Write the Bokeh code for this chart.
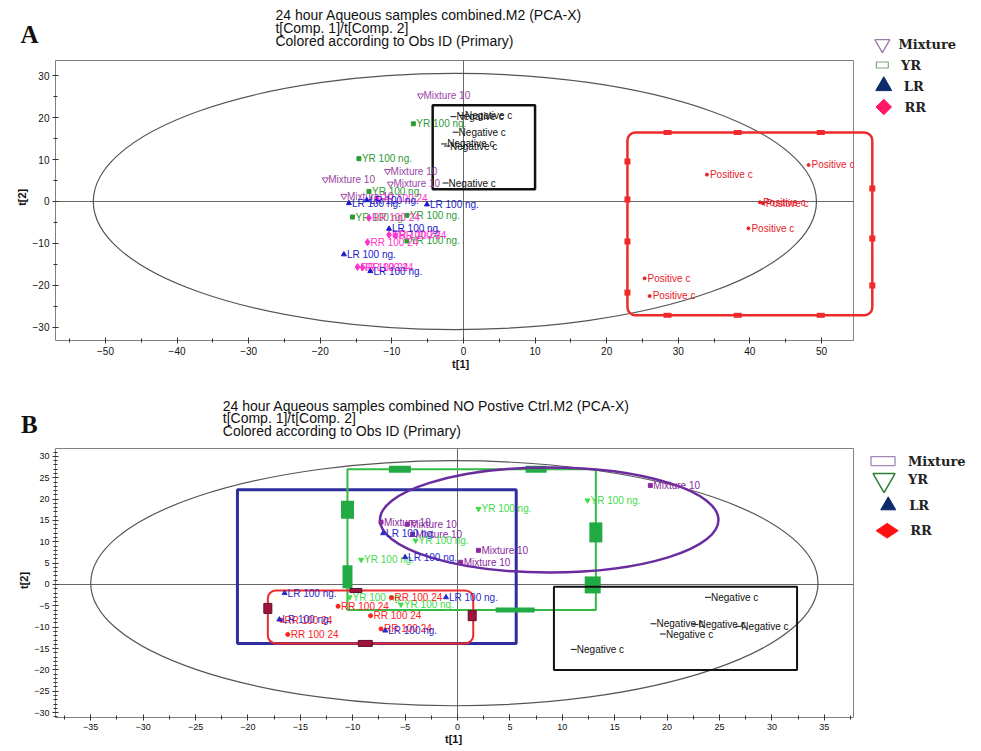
import math
from bokeh.plotting import figure
from bokeh.models import Range1d, SingleIntervalTicker, ColumnDataSource
from bokeh.layouts import column
from bokeh.embed import file_html
from bokeh.resources import INLINE
from bokeh.core.properties import value

# ---------------- Panel A data ----------------
A_TITLE = ["24 hour Aqueous samples combined.M2 (PCA-X)",
           "t[Comp. 1]/t[Comp. 2]",
           "Colored according to Obs ID (Primary)"]
A_MIX_X = [-6.0, -10.6, -19.3, -10.2, -16.7]
A_MIX_Y = [25.2, 7.2, 5.2, 4.2, 1.3]
A_YR_X = [-7.0, -14.6, -13.2, -15.5, -7.9, -7.9]
A_YR_Y = [18.5, 10.2, 2.4, -3.7, -3.3, -9.4]
A_LR_X = [-16.0, -13.5, -5.1, -10.4, -16.7, -13.0]
A_LR_Y = [-0.4, 0.3, -0.7, -6.5, -12.6, -16.6]
A_RR_X = [-12.1, -13.2, -10.4, -9.5, -13.4, -14.8, -14.1]
A_RR_Y = [0.6, -3.9, -7.9, -8.1, -9.7, -15.6, -15.7]
A_NEG_X = [-1.4, -0.2, -1.1, -2.7, -2.3, -2.5]
A_NEG_Y = [20.2, 20.5, 16.5, 13.7, 13.2, 4.4]
A_POS_X = [48.2, 34.0, 41.4, 41.8, 39.8, 25.3, 26.0]
A_POS_Y = [8.7, 6.4, -0.2, -0.4, -6.4, -18.3, -22.5]
A_ELLIPSE = (-1.2, 0.0, 101.0, 61.0)          # centre x, centre y, width, height
A_NEG_BOX = (-4.3, 10.0, 2.9, 22.9)            # left, right, bottom, top
A_POS_BOX = (22.9, 57.1, -27.1, 16.4)
A_POS_HANDLES_TB_X = [28.5, 38.3, 49.9]
A_POS_HANDLES_LEFT_Y = [9.5, 0.5, -9.5, -21.7]
A_POS_HANDLES_RIGHT_Y = [3.1, -8.8, -20.0]

# ---------------- Panel B data ----------------
B_TITLE = ["24 hour Aqueous samples combined NO Postive Ctrl.M2 (PCA-X)",
           "t[Comp. 1]/t[Comp. 2]",
           "Colored according to Obs ID (Primary)"]
B_MIX_X = [-7.3, -4.8, -4.3, 2.0, 0.3, 18.4]
B_MIX_Y = [14.6, 14.1, 11.7, 8.0, 5.2, 23.2]
B_YR_X = [2.0, 12.4, -4.0, -9.2, -10.3, -5.4]
B_YR_Y = [17.7, 19.7, 10.3, 5.8, -3.0, -4.7]
B_LR_X = [-7.1, -5.0, -16.5, -1.1, -17.0, -6.9]
B_LR_Y = [12.0, 6.4, -2.0, -3.0, -8.2, -10.8]
B_RR_X = [-6.3, -11.4, -8.3, -16.8, -7.3, -16.2]
B_RR_Y = [-3.1, -5.1, -7.3, -8.4, -10.4, -11.7]
B_NEG_X = [23.9, 18.7, 22.7, 26.8, 19.6, 11.1]
B_NEG_Y = [-3.0, -9.2, -9.4, -9.8, -11.6, -15.2]
B_ELLIPSE = (-0.3, 0.3, 69.4, 57.4)
B_MIX_ELLIPSE = (8.75, 15.1, 32.3, 24.6)
B_YR_BOX = (-10.5, 13.2, -6.0, 27.0)
B_LR_BOX = (-21.0, 5.6, -13.8, 22.2)
B_RR_BOX = (-18.1, 1.5, -13.8, -1.4)
B_NEG_BOX = (9.2, 32.4, -20.0, -0.5)
B_YR_HANDLES_X = [-5.5, 7.5, -10.5, -10.5, 13.2, 12.9, 5.5]
B_YR_HANDLES_Y = [27.0, 27.0, 17.5, 1.8, 12.2, -0.1, -6.0]
B_YR_HANDLES_W = [22, 21, 13, 10, 13, 16, 39]
B_YR_HANDLES_H = [7, 7, 18, 23, 20, 17, 5]
B_RR_HANDLES_X = [-18.1, 1.4, -8.8, -9.7]
B_RR_HANDLES_Y = [-5.6, -7.3, -13.8, -1.4]
B_RR_HANDLES_W = [8, 8, 14, 12]
B_RR_HANDLES_H = [10, 10, 6, 4]

LEGEND_LABELS = ["Mixture", "YR", "LR", "RR"]

SANS = value("Liberation Sans")
SERIF = value("DejaVu Serif")


def base_fig(height, xr, yr, xb, yb, xint, xminor, yint, yminor, tick_size):
    p = figure(width=981, height=height, x_range=Range1d(*xr), y_range=Range1d(*yr),
               output_backend="svg", toolbar_location=None, title=None, min_border=0)
    p.grid.visible = False
    p.outline_line_color = None
    p.background_fill_color = "white"
    p.border_fill_color = "white"
    p.xaxis.ticker = SingleIntervalTicker(interval=xint, num_minor_ticks=xminor)
    p.yaxis.ticker = SingleIntervalTicker(interval=yint, num_minor_ticks=yminor)
    p.xaxis.bounds = xb
    p.yaxis.bounds = yb
    p.xaxis.fixed_location = yb[0]
    p.yaxis.fixed_location = xb[0]
    p.xaxis.major_label_standoff = 3
    p.yaxis.major_label_standoff = 3
    for ax in (p.xaxis, p.yaxis):
        ax.axis_line_color = "#808080"
        ax.major_tick_line_color = "#333333"
        ax.minor_tick_line_color = "#333333"
        ax.major_tick_in = 3
        ax.major_tick_out = 3
        ax.minor_tick_in = 2
        ax.minor_tick_out = 2
        ax.major_label_text_font = "Liberation Sans"
        ax.major_label_text_font_size = tick_size
        ax.major_label_text_color = "#111111"
    # frame: top and right borders
    p.segment(x0=[xb[0], xb[1]], y0=[yb[1], yb[0]], x1=[xb[1], xb[1]], y1=[yb[1], yb[1]],
              line_color="#808080", line_width=1)
    # zero lines
    p.segment(x0=[xb[0], 0], y0=[0, yb[0]], x1=[xb[1], 0], y1=[0, yb[1]],
              line_color="#666666", line_width=1)
    return p


def group(p, xs, ys, label, color, marker, size, fill=True):
    src = ColumnDataSource(dict(x=xs, y=ys, t=[label] * len(xs)))
    p.scatter("x", "y", source=src, marker=marker, size=size, line_color=color,
              fill_color=color if fill else None, line_width=1)
    p.text("x", "y", text="t", source=src, text_font=SANS, text_font_size="10px",
           text_color=color, text_baseline="middle", x_offset=3)


def titles(p, x, ys, lines):
    p.text(x=[x] * 3, y=ys, text=lines, text_font=SANS, text_font_size="14px",
           text_color="#111111", text_baseline="middle")


def legend_text(p, ys, xs_t):
    p.text(x=xs_t, y=ys, text=LEGEND_LABELS, text_font=SERIF, text_font_style="bold",
           text_font_size="13px", text_color="#222222", text_baseline="middle")


def outer_texts(p, letter, letter_xy, t1_xy, t2_xy):
    p.text(x=[letter_xy[0]], y=[letter_xy[1]], text=[letter], text_font=value("Liberation Serif"),
           text_font_style="bold", text_font_size="25px", text_align="center",
           text_baseline="middle", text_color="#111111")
    p.text(x=[t1_xy[0]], y=[t1_xy[1]], text=["t[1]"], text_font=SANS, text_font_style="bold",
           text_font_size="11px", text_align="center", text_baseline="middle",
           text_color="#111111")
    p.text(x=[t2_xy[0]], y=[t2_xy[1]], text=["t[2]"], text_font=SANS, text_font_style="bold",
           text_font_size="11px", text_align="center", text_baseline="middle",
           angle=math.pi / 2, text_color="#111111")


# ================= Panel A =================
pA = base_fig(371, (-64.66, 72.35), (-40.48, 47.86), (-56.98, 54.47), (-33.1, 33.57),
              10, 2, 10, 2, "10px")
cx, cy, w, h = A_ELLIPSE
pA.ellipse(x=[cx], y=[cy], width=[w], height=[h], fill_color=None,
           line_color="#555555", line_width=1.2)
l, r, b, t = A_NEG_BOX
pA.quad(left=[l], right=[r], bottom=[b], top=[t], fill_color=None,
        line_color="#111111", line_width=2.5)
l, r, b, t = A_POS_BOX
pA.quad(left=[l], right=[r], bottom=[b], top=[t], fill_color=None,
        line_color="#EE2A2A", line_width=2.5, border_radius=8)
pA.rect(x=A_POS_HANDLES_TB_X * 2, y=[t] * 3 + [b] * 3, width=8, height=5,
        width_units="screen", height_units="screen", fill_color="#EE2A2A", line_color=None)
pA.rect(x=[l] * len(A_POS_HANDLES_LEFT_Y) + [r] * len(A_POS_HANDLES_RIGHT_Y),
        y=A_POS_HANDLES_LEFT_Y + A_POS_HANDLES_RIGHT_Y, width=6, height=6,
        width_units="screen", height_units="screen", fill_color="#EE2A2A", line_color=None)

group(pA, A_NEG_X, A_NEG_Y, "Negative c", "#111111", "dash", 6)
group(pA, A_POS_X, A_POS_Y, "Positive c", "#E8202A", "circle", 3)
group(pA, A_MIX_X, A_MIX_Y, "Mixture 10", "#9B46A8", "inverted_triangle", 6, fill=False)
group(pA, A_YR_X, A_YR_Y, "YR 100 ng.", "#2D9B35", "square", 4)
group(pA, A_RR_X, A_RR_Y, "RR 100 24", "#FF33CC", "diamond", 7)
group(pA, A_LR_X, A_LR_Y, "LR 100 ng.", "#1A1ACC", "triangle", 5)

titles(pA, -26.26, [44.3, 41.2, 38.1], A_TITLE)
pA.scatter(x=[58.5], y=[37.5], marker="inverted_triangle", size=15, fill_color=None,
           line_color="#9A7AA6", line_width=1.3)
pA.rect(x=[58.5], y=[32.5], width=12, height=6, width_units="screen", height_units="screen",
        fill_color=None, line_color="#7FA57F", line_width=1.2)
pA.scatter(x=[58.7], y=[27.5], marker="triangle", size=16, fill_color="#0B2A6B",
           line_color="#0B2A6B")
pA.scatter(x=[58.7], y=[22.5], marker="square", size=11, angle=math.pi / 4,
           fill_color="#FF1A66", line_color="#FF1A66")
legend_text(pA, [37.5, 32.5, 27.5, 22.5], [60.75, 61.1, 61.5, 61.6])
outer_texts(pA, "A", (-60.6, 39.8), (-0.4, -38.7), (-61.6, 1.0))

# ================= Panel B =================
pB = base_fig(380, (-43.61, 50.0), (-39.11, 49.88), (-38.36, 37.79), (-31.15, 31.85),
              5, 2, 5, 5, "9px")
cx, cy, w, h = B_ELLIPSE
pB.ellipse(x=[cx], y=[cy], width=[w], height=[h], fill_color=None,
           line_color="#555555", line_width=1.2)
l, r, b, t = B_LR_BOX
pB.quad(left=[l], right=[r], bottom=[b], top=[t], fill_color=None,
        line_color="#2E2E9E", line_width=3)
l, r, b, t = B_YR_BOX
pB.quad(left=[l], right=[r], bottom=[b], top=[t], fill_color=None,
        line_color="#33BB44", line_width=2)
pB.rect(x=B_YR_HANDLES_X, y=B_YR_HANDLES_Y, width=B_YR_HANDLES_W, height=B_YR_HANDLES_H,
        width_units="screen", height_units="screen", fill_color="#22AA44", line_color=None)
cx, cy, w, h = B_MIX_ELLIPSE
pB.ellipse(x=[cx], y=[cy], width=[w], height=[h], fill_color=None,
           line_color="#6A2C9E", line_width=2.5)
l, r, b, t = B_NEG_BOX
pB.quad(left=[l], right=[r], bottom=[b], top=[t], fill_color=None,
        line_color="#111111", line_width=2)
l, r, b, t = B_RR_BOX
pB.quad(left=[l], right=[r], bottom=[b], top=[t], fill_color=None,
        line_color="#EE2A2A", line_width=2, border_radius=8)
pB.rect(x=B_RR_HANDLES_X, y=B_RR_HANDLES_Y, width=B_RR_HANDLES_W, height=B_RR_HANDLES_H,
        width_units="screen", height_units="screen", fill_color="#A0143C",
        line_color="#5A1030", line_width=1)

group(pB, B_NEG_X, B_NEG_Y, "Negative c", "#111111", "dash", 6)
group(pB, B_MIX_X, B_MIX_Y, "Mixture 10", "#8A2BA0", "square", 4)
group(pB, B_YR_X, B_YR_Y, "YR 100 ng.", "#3EDC4A", "inverted_triangle", 5)
group(pB, B_RR_X, B_RR_Y, "RR 100 24", "#FF2020", "circle", 4)
group(pB, B_LR_X, B_LR_Y, "LR 100 ng.", "#2A2ACC", "triangle", 5)

titles(pB, -22.4, [41.9, 38.9, 35.9], B_TITLE)
pB.rect(x=[40.6], y=[28.9], width=24, height=9, width_units="screen", height_units="screen",
        fill_color=None, line_color="#A386B4", line_width=1.3)
pB.scatter(x=[40.7], y=[24.5], marker="inverted_triangle", size=22, fill_color=None,
           line_color="#2E7D32", line_width=1.5)
pB.scatter(x=[41.1], y=[18.5], marker="triangle", size=15, fill_color="#0B2A6B",
           line_color="#0B2A6B")
pB.scatter(x=[41.0], y=[12.6], marker="diamond", size=22, angle=math.pi / 2,
           fill_color="#FF1111", line_color="#FF1111")
legend_text(pB, [28.9, 24.5, 18.5, 12.6], [42.98, 42.98, 43.1, 43.2])
outer_texts(pB, "B", (-40.87, 37.47), (-0.38, -36.07), (-41.38, 0.94))

layout = column(pA, pB, spacing=0)
open("out.html", "w").write(file_html(layout, INLINE))
